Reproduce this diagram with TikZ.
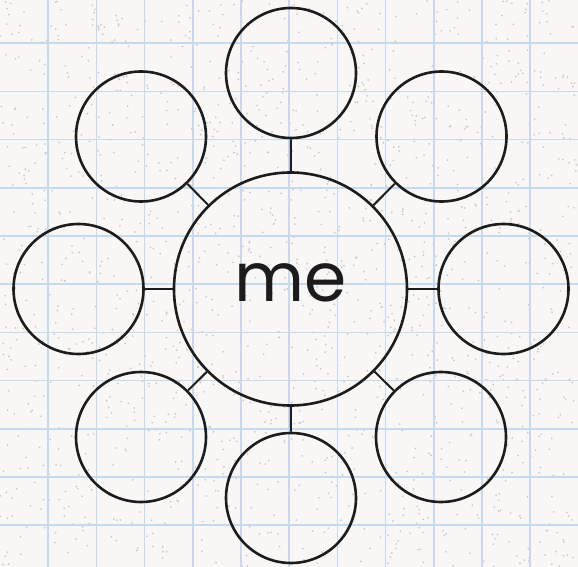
\documentclass[tikz,border=0pt]{standalone}
\usepackage{fontspec}
\setmainfont{Poppins}
\usepackage{tikz}
\definecolor{PaperColor}{HTML}{F8F7F5}
\definecolor{GridColor}{HTML}{C6DAEE}
\definecolor{SpeckColor}{HTML}{C9C9C9}
\definecolor{InkColor}{HTML}{1C1C1C}

\begin{document}
\begin{tikzpicture}[
  x=1pt, y=-1pt,
  gridline/.style={GridColor, line width=1.6pt},
  hub/.style={draw=InkColor, circle, line width=2.6pt, minimum size=233pt,
              inner sep=0pt},
  leaf/.style={draw=InkColor, circle, line width=2.6pt, minimum size=130pt,
               inner sep=0pt},
  link/.style={InkColor, line width=2pt}
]
  % paper
  \fill[PaperColor] (0,0) rectangle (578,567);
  \useasboundingbox (0,0) rectangle (578,567);
  \pgfmathsetseed{11}
  \foreach \k in {1,...,1500}{
    \pgfmathsetmacro\dx{rnd*578}
    \pgfmathsetmacro\dy{rnd*567}
    \fill[SpeckColor] (\dx,\dy) circle (1.0);
  }
  \foreach \i in {1,...,11}{
    \draw[gridline] ({48.2*\i},0) -- ({48.2*\i},567);
    \draw[gridline] (0,{48.2*\i-5}) -- (578,{48.2*\i-5});
  }

  % centre and surrounding circles
  \node[hub] (me) at (290.5,289) {};
  \node[font=\fontsize{68}{68}\selectfont, text=InkColor] (melabel)
    at ([yshift=6pt]me.center) {me};
  \foreach \name/\pos in {top/{291,73}, topright/{441.5,136.5},
                          right/{503.5,289}, bottomright/{441,437},
                          bottom/{291,498}, bottomleft/{141,437},
                          left/{78.5,289}, topleft/{141,136.5}}{
    \node[leaf] (\name) at (\pos) {};
    \draw[link] (me) -- (\name);
  }
\end{tikzpicture}
\end{document}
